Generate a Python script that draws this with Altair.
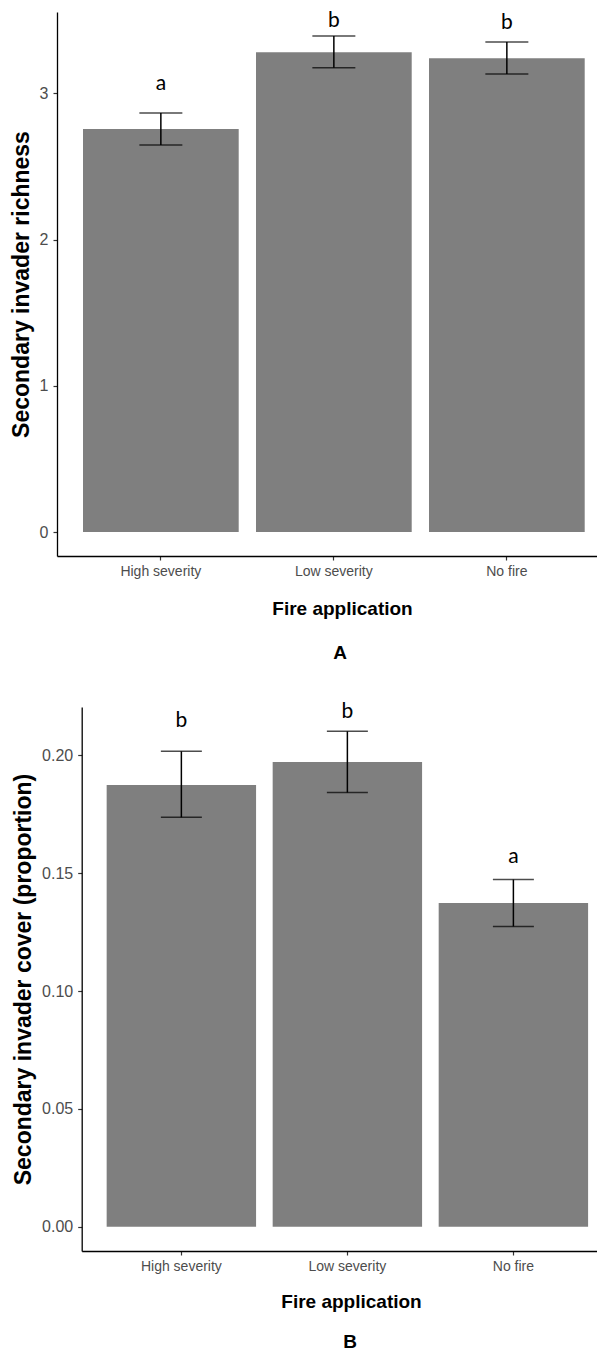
import altair as alt
import pandas as pd

categories = ["High severity", "Low severity", "No fire"]

richness_mean = [2.756, 3.281, 3.240]
richness_lo = [2.647, 3.176, 3.133]
richness_hi = [2.866, 3.393, 3.352]
richness_letters = ["a", "b", "b"]
richness_letter_y = [3.021, 3.454, 3.443]
richness_ticks = [0, 1, 2, 3]

cover_mean = [0.1874, 0.1972, 0.1373]
cover_lo = [0.1737, 0.1842, 0.1274]
cover_hi = [0.2017, 0.2102, 0.1473]
cover_letters = ["b", "b", "a"]
cover_letter_y = [0.2120, 0.2160, 0.1545]
cover_ticks = [0.0, 0.05, 0.10, 0.15, 0.20]

FONT = "Liberation Sans"
W = 540
H = 544


def panel(means, lo, hi, letters, ly, ytitle, domain, ticks, fmt, x_start,
          caption, cap_size, align, pad_outer, title_x, cap_dx, title_pad, cap_offset):
    df = pd.DataFrame({"cat": categories, "mean": means, "lo": lo, "hi": hi,
                       "letter": letters, "ly": ly})
    x = alt.X("cat:N", sort=categories,
              scale=alt.Scale(paddingInner=0.1, paddingOuter=pad_outer, align=align,
                              range=[x_start, W]),
              axis=alt.Axis(title="Fire application", labelAngle=0, titleX=title_x,
                            titlePadding=title_pad))
    yscale = alt.Scale(domain=domain, nice=False, zero=False)
    yaxis = alt.Axis(title=ytitle, values=ticks, format=fmt, grid=False,
                     offset=-x_start)
    base = alt.Chart(df)
    bars = base.mark_bar(color="#7F7F7F").encode(
        x=x, y=alt.Y("mean:Q", scale=yscale, axis=yaxis), y2=alt.datum(0))
    rule = base.mark_rule(color="black", strokeWidth=1.5).encode(
        x=x, y=alt.Y("lo:Q", scale=yscale, axis=yaxis), y2="hi:Q")
    tick_lo = base.mark_tick(color="black", thickness=1.5, size=cap_size).encode(
        x=x, y=alt.Y("lo:Q", scale=yscale, axis=yaxis))
    tick_hi = base.mark_tick(color="black", thickness=1.5, size=cap_size).encode(
        x=x, y=alt.Y("hi:Q", scale=yscale, axis=yaxis))
    text = base.mark_text(font="Lato", fontSize=21, baseline="alphabetic",
                          color="black").encode(
        x=x, y=alt.Y("ly:Q", scale=yscale, axis=yaxis), text="letter:N")
    return alt.layer(bars, rule, tick_lo, tick_hi, text).properties(
        width=W, height=H,
        title=alt.TitleParams(text=caption, orient="bottom", fontSize=19, font=FONT,
                              fontWeight="bold", color="black", offset=cap_offset,
                              anchor="middle", frame="group", dx=cap_dx))


a = panel(richness_mean, richness_lo, richness_hi, richness_letters, richness_letter_y,
          "Secondary invader richness", [-0.164, 3.557], richness_ticks, "d", 0,
          "A", 43, 0.679, 0.1107, 285, 13, 21, 26)
b = panel(cover_mean, cover_lo, cover_hi, cover_letters, cover_letter_y,
          "Secondary invader cover (proportion)", [-0.0103, 0.2205], cover_ticks, ".2f",
          24.7, "B", 41, 0.737, 0.102, 294, 23, 19, 22)

chart = alt.vconcat(a, b, spacing=37).properties(
    padding={"left": 2, "top": 2, "right": 0, "bottom": 0}
).configure_view(stroke=None).configure_axis(
    domainColor="black", domainWidth=1.3, tickColor="#333333", tickSize=4,
    tickWidth=1.2, labelFont=FONT, labelColor="#4D4D4D", titleFont=FONT,
    titleColor="black", titleFontWeight="bold"
).configure_axisY(
    labelFontSize=16, labelPadding=5, titleFontSize=23, titlePadding=6
).configure_axisX(
    labelFontSize=14, labelPadding=4, titleFontSize=19
)

chart.save("out.html", embed_options={"renderer": "svg", "actions": False})
